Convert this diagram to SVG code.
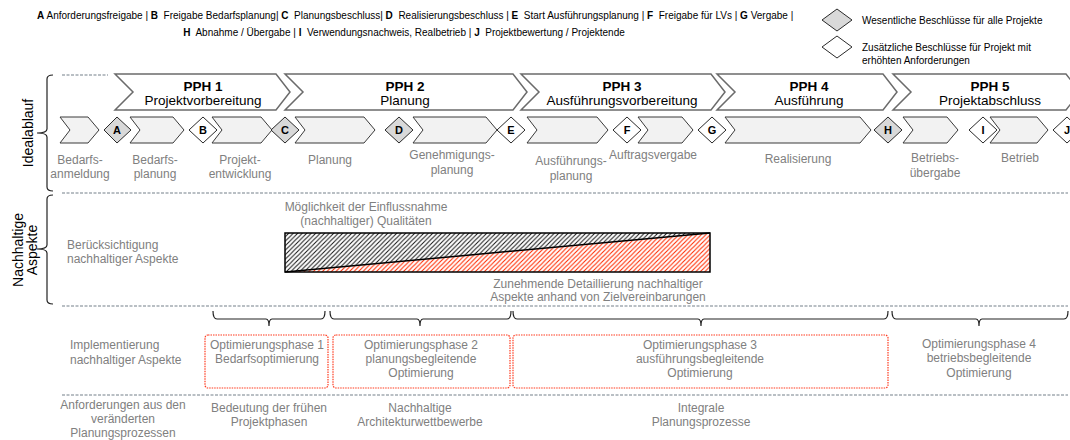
<svg xmlns="http://www.w3.org/2000/svg" width="1070" height="440" viewBox="0 0 1070 440">
<style>
text{font-family:"Liberation Sans",Arial,sans-serif}
.leg{font-size:10px;fill:#000}
.pph{fill:#fff;stroke:#6b6b6b;stroke-width:1.5}
.pt{font-size:13.5px;fill:#000;text-anchor:middle}
.pb{font-weight:bold}
.chev{fill:#f2f2f2;stroke:#3a3a3a;stroke-width:1}
.dg{fill:#d9d9d9;stroke:#2a2a2a;stroke-width:1}
.dw{fill:#fff;stroke:#2a2a2a;stroke-width:1}
.dl{font-size:11px;font-weight:bold;fill:#000;text-anchor:middle}
.g{font-size:12px;fill:#808080}
.gm{font-size:12px;fill:#808080;text-anchor:middle}
.side{font-size:14px;fill:#000;text-anchor:middle}
.dash{stroke:#a3abb1;stroke-width:1.5;stroke-dasharray:3 1.5;fill:none}
.brace{fill:none;stroke:#222;stroke-width:1.2}
.rbox{fill:none;stroke:#ff3b1f;stroke-width:1.2;stroke-dasharray:1.5 1}
</style>
<defs>
<pattern id="hk" patternUnits="userSpaceOnUse" width="4.5" height="4.5"><rect width="4.5" height="4.5" fill="#fff"/><path d="M-1,1 L1,-1 M0,4.5 L4.5,0 M3.5,5.5 L5.5,3.5" stroke="#111" stroke-width="1"/></pattern>
<pattern id="hr" patternUnits="userSpaceOnUse" width="4.5" height="4.5"><rect width="4.5" height="4.5" fill="#fff"/><path d="M-1,1 L1,-1 M0,4.5 L4.5,0 M3.5,5.5 L5.5,3.5" stroke="#ff2a00" stroke-width="1.1"/></pattern>
</defs>

<g id="legend">
<text class="leg" x="37" y="19" xml:space="preserve"><tspan class="pb">A</tspan> Anforderungsfreigabe | <tspan class="pb">B</tspan>  Freigabe Bedarfsplanung| <tspan class="pb">C</tspan>  Planungsbeschluss| <tspan class="pb">D</tspan>  Realisierungsbeschluss | <tspan class="pb">E</tspan>  Start Ausführungsplanung | <tspan class="pb">F</tspan>  Freigabe für LVs | <tspan class="pb">G</tspan> Vergabe |</text>
<text class="leg" x="404" y="36" text-anchor="middle" xml:space="preserve"><tspan class="pb">H</tspan>  Abnahme / Übergabe | <tspan class="pb">I</tspan>  Verwendungsnachweis, Realbetrieb | <tspan class="pb">J</tspan>  Projektbewertung / Projektende</text>
<polygon class="dg" points="822,20 837,9 852,20 837,31"/>
<text class="leg" x="862" y="24">Wesentliche Beschlüsse für alle Projekte</text>
<polygon class="dw" points="822,47 837,36 852,47 837,58"/>
<text class="leg" x="862" y="51">Zusätzliche Beschlüsse für Projekt mit</text>
<text class="leg" x="862" y="64">erhöhten Anforderungen</text>
</g>

<g id="side-labels">
<path class="brace" d="M53,75 Q47,75 47,79 L47,129 Q47,133 37,133 Q47,133 47,137 L47,187 Q47,191 53,191"/>
<text class="side" transform="translate(33,133) rotate(-90)">Idealablauf</text>
<path class="brace" d="M53,195 Q47,195 47,199 L47,245 Q47,249 37,249 Q47,249 47,253 L47,300 Q47,304 53,304"/>
<text class="side" transform="translate(23,250) rotate(-90)">Nachhaltige</text>
<text class="side" transform="translate(37,250) rotate(-90)">Aspekte</text>
</g>

<g id="separators">
<line class="dash" x1="62" y1="75" x2="108" y2="75"/>
<line class="dash" x1="62" y1="193" x2="1068" y2="193"/>
<line class="dash" x1="62" y1="306" x2="1068" y2="306"/>
<line class="dash" x1="62" y1="395" x2="1068" y2="395"/>
</g>

<g id="pph1"><polygon class="pph" points="115,74 276,74 290,92 276,110 115,110 133,92"/><text class="pt pb" x="203" y="91">PPH 1</text><text class="pt" x="203" y="105">Projektvorbereitung</text></g>
<g id="pph2"><polygon class="pph" points="285,74 513,74 527,92 513,110 285,110 303,92"/><text class="pt pb" x="405" y="91">PPH 2</text><text class="pt" x="405" y="105">Planung</text></g>
<g id="pph3"><polygon class="pph" points="521,74 711,74 725,92 711,110 521,110 539,92"/><text class="pt pb" x="622" y="91">PPH 3</text><text class="pt" x="622" y="105">Ausführungsvorbereitung</text></g>
<g id="pph4"><polygon class="pph" points="717,74 883,74 897,92 883,110 717,110 735,92"/><text class="pt pb" x="809" y="91">PPH 4</text><text class="pt" x="809" y="105">Ausführung</text></g>
<g id="pph5"><polygon class="pph" points="893,74 1066,74 1080,92 1066,110 893,110 911,92"/><text class="pt pb" x="990" y="91">PPH 5</text><text class="pt" x="990" y="105">Projektabschluss</text></g>

<g id="step1"><polygon class="chev" points="60,117 88,117 99,130 88,143 60,143 70,130"/><text class="gm" x="80" y="164">Bedarfs-</text><text class="gm" x="80" y="178">anmeldung</text></g>
<g id="mA"><polygon class="dg" points="104,130 117,117 131,130 117,143"/><text class="dl" x="117" y="134">A</text></g>
<g id="step2"><polygon class="chev" points="130,117 173,117 184,130 173,143 130,143 140,130"/><text class="gm" x="155" y="164">Bedarfs-</text><text class="gm" x="155" y="178">planung</text></g>
<g id="mB"><polygon class="dw" points="189,130 203,117 217,130 203,143"/><text class="dl" x="203" y="134">B</text></g>
<g id="step3"><polygon class="chev" points="212,117 261,117 272,130 261,143 212,143 222,130"/><text class="gm" x="240" y="164">Projekt-</text><text class="gm" x="240" y="178">entwicklung</text></g>
<g id="mC"><polygon class="dg" points="271,130 285,117 299,130 285,143"/><text class="dl" x="285" y="134">C</text></g>
<g id="step4"><polygon class="chev" points="295,117 364,117 375,130 364,143 295,143 305,130"/><text class="gm" x="330" y="164">Planung</text></g>
<g id="mD"><polygon class="dg" points="385,130 399,117 413,130 399,143"/><text class="dl" x="399" y="134">D</text></g>
<g id="step5"><polygon class="chev" points="413,117 486,117 497,130 486,143 413,143 423,130"/><text class="gm" x="452" y="159">Genehmigungs-</text><text class="gm" x="452" y="174">planung</text></g>
<g id="mE"><polygon class="dw" points="497,130 511,117 525,130 511,143"/><text class="dl" x="511" y="134">E</text></g>
<g id="step6"><polygon class="chev" points="527,117 597,117 608,130 597,143 527,143 537,130"/><text class="gm" x="571" y="165">Ausführungs-</text><text class="gm" x="571" y="180">planung</text></g>
<g id="mF"><polygon class="dw" points="613,130 627,117 641,130 627,143"/><text class="dl" x="627" y="134">F</text></g>
<g id="step7"><polygon class="chev" points="638,117 682,117 693,130 682,143 638,143 648,130"/><text class="gm" x="653" y="159">Auftragsvergabe</text></g>
<g id="mG"><polygon class="dw" points="698,130 712,117 726,130 712,143"/><text class="dl" x="712" y="134">G</text></g>
<g id="step8"><polygon class="chev" points="725,117 860,117 871,130 860,143 725,143 735,130"/><text class="gm" x="798" y="163">Realisierung</text></g>
<g id="mH"><polygon class="dg" points="874,130 888,117 902,130 888,143"/><text class="dl" x="888" y="134">H</text></g>
<g id="step9"><polygon class="chev" points="903,117 947,117 958,130 947,143 903,143 913,130"/><text class="gm" x="935" y="162">Betriebs-</text><text class="gm" x="935" y="177">übergabe</text></g>
<g id="mI"><polygon class="dw" points="969,130 983,117 997,130 983,143"/><text class="dl" x="983" y="134">I</text></g>
<g id="step10"><polygon class="chev" points="990,117 1037,117 1048,130 1037,143 990,143 1000,130"/><text class="gm" x="1020" y="162">Betrieb</text></g>
<g id="mJ"><polygon class="dw" points="1053,130 1067,117 1081,130 1067,143"/><text class="dl" x="1067" y="134">J</text></g>

<g id="sustainability">
<text class="g" x="67" y="249">Berücksichtigung</text>
<text class="g" x="67" y="263">nachhaltiger Aspekte</text>
<text class="gm" x="366" y="211">Möglichkeit der Einflussnahme</text>
<text class="gm" x="366" y="225">(nachhaltiger) Qualitäten</text>
<polygon points="285,233 710,233 285,272" fill="url(#hk)"/>
<polygon points="285,272 710,233 710,272" fill="url(#hr)"/>
<rect x="285" y="233" width="425" height="39" fill="none" stroke="#000" stroke-width="1.5"/>
<line x1="285" y1="272" x2="710" y2="233" stroke="#000" stroke-width="1.5"/>
<text class="gm" x="598" y="288">Zunehmende Detaillierung nachhaltiger</text>
<text class="gm" x="598" y="301">Aspekte anhand von Zielvereinbarungen</text>
</g>

<g id="connectors">
<path class="brace" d="M213,311 Q213,319 217,319 L266,319 Q269,319 269,326 Q269,319 272,319 L321,319 Q325,319 325,311"/>
<path class="brace" d="M330,311 Q330,319 334,319 L417,319 Q420,319 420,326 Q420,319 423,319 L507,319 Q511,319 511,311"/>
<path class="brace" d="M513,311 Q513,319 517,319 L698,319 Q701,319 701,326 Q701,319 704,319 L884,319 Q888,319 888,311"/>
<path class="brace" d="M892,311 Q892,319 896,319 L976,319 Q979,319 979,326 Q979,319 982,319 L1064,319 Q1068,319 1068,311"/>
</g>

<g id="impl">
<text class="g" x="70" y="349">Implementierung</text>
<text class="g" x="70" y="364">nachhaltiger Aspekte</text>
</g>
<g id="opt1"><rect class="rbox" x="205" y="335" width="123" height="53" rx="3"/><text class="gm" x="267" y="349">Optimierungsphase 1</text><text class="gm" x="267" y="363">Bedarfsoptimierung</text></g>
<g id="opt2"><rect class="rbox" x="333" y="335" width="177" height="53" rx="3"/><text class="gm" x="421" y="349">Optimierungsphase 2</text><text class="gm" x="421" y="363">planungsbegleitende</text><text class="gm" x="421" y="377">Optimierung</text></g>
<g id="opt3"><rect class="rbox" x="513" y="335" width="375" height="53" rx="3"/><text class="gm" x="700" y="349">Optimierungsphase 3</text><text class="gm" x="700" y="363">ausführungsbegleitende</text><text class="gm" x="700" y="377">Optimierung</text></g>
<g id="opt4"><text class="gm" x="979" y="348">Optimierungsphase 4</text><text class="gm" x="979" y="362">betriebsbegleitende</text><text class="gm" x="979" y="377">Optimierung</text></g>

<g id="requirements">
<text class="gm" x="123" y="409">Anforderungen aus den</text>
<text class="gm" x="123" y="423">veränderten</text>
<text class="gm" x="123" y="437">Planungsprozessen</text>
<text class="gm" x="269" y="412">Bedeutung der frühen</text>
<text class="gm" x="269" y="426">Projektphasen</text>
<text class="gm" x="420" y="412">Nachhaltige</text>
<text class="gm" x="420" y="426">Architekturwettbewerbe</text>
<text class="gm" x="701" y="412">Integrale</text>
<text class="gm" x="701" y="426">Planungsprozesse</text>
</g>
</svg>
